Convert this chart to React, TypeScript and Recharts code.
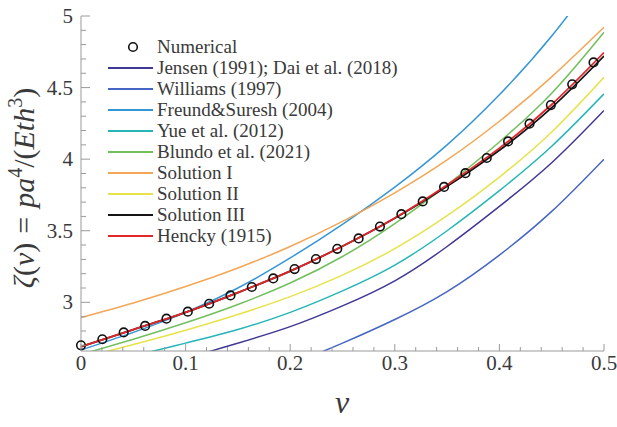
import React from 'react';
import { ComposedChart, Line, XAxis, YAxis, Legend } from 'recharts';

// poisson ratio grid used for the analytical curves
const NU = [0, 0.05, 0.1, 0.15, 0.2, 0.25, 0.3, 0.35, 0.4, 0.45, 0.5];

const jensen = [2.44, 2.52, 2.61, 2.715, 2.83, 2.975, 3.15, 3.39, 3.67, 3.975, 4.34];
const williams = [2.1, 2.2, 2.31, 2.43, 2.565, 2.715, 2.88, 3.075, 3.33, 3.635, 4.0];
const freund = [2.667, 2.79, 2.93, 3.1, 3.31, 3.545, 3.805, 4.1, 4.45, 4.86, 5.34];
const yue = [2.54, 2.625, 2.715, 2.81, 2.93, 3.08, 3.26, 3.5, 3.78, 4.09, 4.456];
const blundo = [2.635, 2.742, 2.857, 2.985, 3.135, 3.32, 3.55, 3.82, 4.12, 4.46, 4.886];
const solution1 = [2.893, 2.995, 3.11, 3.24, 3.39, 3.565, 3.765, 3.995, 4.265, 4.575, 4.921];
const solution2 = [2.61, 2.705, 2.805, 2.915, 3.04, 3.19, 3.375, 3.605, 3.875, 4.19, 4.572];
const solution3 = [2.69, 2.81, 2.93, 3.068, 3.218, 3.392, 3.587, 3.81, 4.062, 4.36, 4.72];
const hencky = [2.69, 2.81, 2.93, 3.068, 3.218, 3.392, 3.589, 3.82, 4.077, 4.382, 4.745];

// numerical results
const NU_NUM = [
  0, 0.0204, 0.0408, 0.0613, 0.0817, 0.1021, 0.1225, 0.1429, 0.1633, 0.1838, 0.2042, 0.2246,
  0.245, 0.2654, 0.2858, 0.3063, 0.3267, 0.3471, 0.3675, 0.3879, 0.4083, 0.4288, 0.4492, 0.4696, 0.49,
];
const numerical = [
  2.7, 2.742, 2.79, 2.835, 2.886, 2.935, 2.99, 3.048, 3.107, 3.167, 3.232, 3.302,
  3.374, 3.446, 3.529, 3.616, 3.705, 3.806, 3.902, 4.008, 4.124, 4.248, 4.378, 4.523, 4.676,
];

const X_TICKS = [
  0, 0.02, 0.04, 0.06, 0.08, 0.1, 0.12, 0.14, 0.16, 0.18, 0.2, 0.22, 0.24,
  0.26, 0.28, 0.3, 0.32, 0.34, 0.36, 0.38, 0.4, 0.42, 0.44, 0.46, 0.48, 0.5,
];
const Y_TICKS = [
  2.7, 2.8, 2.9, 3, 3.1, 3.2, 3.3, 3.4, 3.5, 3.6, 3.7, 3.8, 3.9, 4,
  4.1, 4.2, 4.3, 4.4, 4.5, 4.6, 4.7, 4.8, 4.9, 5,
];

const toPoints = (xs: number[], ys: number[]) => xs.map((x, i) => ({ x, y: ys[i] }));

const series = [
  { name: 'Jensen (1991); Dai et al. (2018)', values: jensen, color: '#3f3795', width: 1.5 },
  { name: 'Williams (1997)', values: williams, color: '#4566c2', width: 1.5 },
  { name: 'Freund&Suresh (2004)', values: freund, color: '#3596d6', width: 1.5 },
  { name: 'Yue et al. (2012)', values: yue, color: '#26b5b5', width: 1.5 },
  { name: 'Blundo et al. (2021)', values: blundo, color: '#72bf5e', width: 1.5 },
  { name: 'Solution I', values: solution1, color: '#f3a655', width: 1.5 },
  { name: 'Solution II', values: solution2, color: '#e6e34a', width: 1.5 },
  { name: 'Solution III', values: solution3, color: '#151515', width: 1.8 },
  { name: 'Hencky (1915)', values: hencky, color: '#e2262b', width: 1.8 },
];

const FONT = "'Liberation Serif'";
const FRAME = '#9a9a9a';
const TEXT = '#3a3a3a';

const isMajorX = (v: number) => Math.abs(v * 10 - Math.round(v * 10)) < 1e-6;
const isMajorY = (v: number) => Math.abs(v * 2 - Math.round(v * 2)) < 1e-6;
const fmt = (v: number) => String(Math.round(v * 10) / 10);

const BottomTick = (props: any) => {
  const { x, y, payload } = props;
  const major = isMajorX(payload.value);
  return (
    <g>
      <line x1={x} x2={x} y1={y} y2={y - (major ? 7 : 4)} stroke={FRAME} />
      {major && (
        <text x={x} y={y + 19} textAnchor="middle" fontFamily={FONT} fontSize={21} fill={TEXT}>
          {fmt(payload.value)}
        </text>
      )}
    </g>
  );
};

const TopTick = (props: any) => {
  const { x, y, payload } = props;
  const major = isMajorX(payload.value);
  return <line x1={x} x2={x} y1={y} y2={y + (major ? 7 : 4)} stroke={FRAME} />;
};

const LeftTick = (props: any) => {
  const { x, y, payload } = props;
  const major = isMajorY(payload.value);
  return (
    <g>
      <line x1={x} x2={x + (major ? 9 : 5)} y1={y} y2={y} stroke={FRAME} />
      {major && (
        <text x={x - 8} y={y + 7} textAnchor="end" fontFamily={FONT} fontSize={21} fill={TEXT}>
          {fmt(payload.value)}
        </text>
      )}
    </g>
  );
};

const RightTick = (props: any) => {
  const { x, y, payload } = props;
  const major = isMajorY(payload.value);
  return <line x1={x} x2={x - (major ? 9 : 5)} y1={y} y2={y} stroke={FRAME} />;
};

const YTitle = () => (
  <text
    transform="translate(34,188) rotate(-90)"
    textAnchor="middle"
    fontFamily={FONT}
    fontSize={30}
    fill={TEXT}
  >
    <tspan fontStyle="italic">ζ</tspan>
    <tspan>(</tspan>
    <tspan fontStyle="italic">ν</tspan>
    <tspan>)</tspan>
    <tspan dx={9}>=</tspan>
    <tspan dx={9} fontStyle="italic">pa</tspan>
    <tspan dy={-12} fontSize={20}>4</tspan>
    <tspan dy={12}>/(</tspan>
    <tspan fontStyle="italic">Eth</tspan>
    <tspan dy={-12} fontSize={20}>3</tspan>
    <tspan dy={12}>)</tspan>
  </text>
);

const XTitle = () => (
  <text x={342} y={413} textAnchor="middle" fontFamily={FONT} fontSize={32} fontStyle="italic" fill={TEXT}>
    ν
  </text>
);

const LegendBox = () => (
  <div style={{ fontFamily: FONT, fontSize: 19, color: TEXT }}>
    <div style={{ display: 'flex', alignItems: 'center', height: 21.1 }}>
      <svg width={45} height={12}>
        <circle cx={25} cy={6} r={4.3} fill="none" stroke="#111" strokeWidth={1.6} />
      </svg>
      <span style={{ marginLeft: 4, whiteSpace: 'nowrap' }}>Numerical</span>
    </div>
    {series.map((s) => (
      <div key={s.name} style={{ display: 'flex', alignItems: 'center', height: 21.1 }}>
        <svg width={45} height={12}>
          <line x1={0} x2={45} y1={6} y2={6} stroke={s.color} strokeWidth={s.width + 0.3} />
        </svg>
        <span style={{ marginLeft: 4, whiteSpace: 'nowrap' }}>{s.name}</span>
      </div>
    ))}
  </div>
);

export default function App() {
  return (
    <div style={{ position: 'absolute', left: 0, top: 0, background: '#fff' }}>
      <ComposedChart width={617} height={427} margin={{ top: 16, right: 13, bottom: 0, left: 0 }}>
        <XAxis
          xAxisId="b"
          dataKey="x"
          type="number"
          domain={[0, 0.5]}
          ticks={X_TICKS}
          interval={0}
          height={76}
          tickSize={0}
          tickMargin={0}
          tickLine={false}
          axisLine={{ stroke: FRAME }}
          tick={(p: any) => <BottomTick {...p} />}
          label={<XTitle />}
          allowDataOverflow
        />
        <XAxis
          xAxisId="t"
          orientation="top"
          dataKey="x"
          type="number"
          domain={[0, 0.5]}
          ticks={X_TICKS}
          interval={0}
          height={0}
          tickSize={0}
          tickMargin={0}
          tickLine={false}
          axisLine={{ stroke: FRAME }}
          tick={(p: any) => <TopTick {...p} />}
          allowDataOverflow
        />
        <YAxis
          yAxisId="l"
          type="number"
          domain={[2.66, 5]}
          ticks={Y_TICKS}
          interval={0}
          width={81}
          tickSize={0}
          tickMargin={0}
          tickLine={false}
          axisLine={{ stroke: FRAME }}
          tick={(p: any) => <LeftTick {...p} />}
          label={<YTitle />}
          allowDataOverflow
        />
        <YAxis
          yAxisId="r"
          orientation="right"
          type="number"
          domain={[2.66, 5]}
          ticks={Y_TICKS}
          interval={0}
          width={0}
          tickSize={0}
          tickMargin={0}
          tickLine={false}
          axisLine={{ stroke: FRAME }}
          tick={(p: any) => <RightTick {...p} />}
          allowDataOverflow
        />
        <Legend
          layout="vertical"
          align="center"
          verticalAlign="middle"
          wrapperStyle={{ left: 108, top: 36, width: 'auto' }}
          content={() => <LegendBox />}
        />
        <Line
          xAxisId="b"
          yAxisId="l"
          data={toPoints(NU_NUM, numerical)}
          dataKey="y"
          name="Numerical"
          stroke="none"
          strokeWidth={0}
          dot={{ r: 4.3, fill: 'none', stroke: '#111', strokeWidth: 1.6, clipDot: false }}
          activeDot={false}
          isAnimationActive={false}
        />
        {series.map((s) => (
          <Line
            key={s.name}
            xAxisId="b"
            yAxisId="l"
            data={toPoints(NU, s.values)}
            dataKey="y"
            name={s.name}
            type="natural"
            stroke={s.color}
            strokeWidth={s.width}
            dot={false}
            activeDot={false}
            isAnimationActive={false}
          />
        ))}
      </ComposedChart>
    </div>
  );
}
